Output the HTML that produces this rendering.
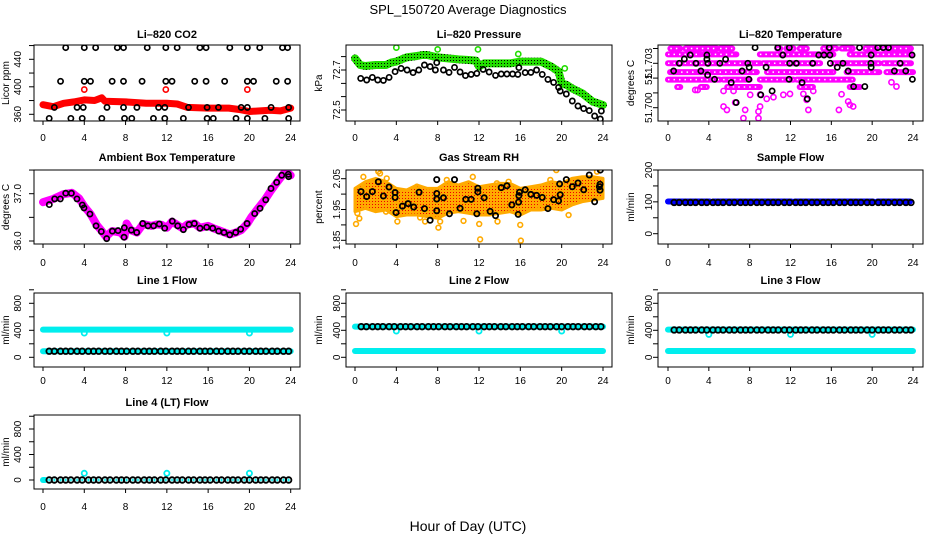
<!DOCTYPE html>
<html><head><meta charset="utf-8"><style>
html,body{margin:0;padding:0;background:#fff}
svg{display:block;font-family:"Liberation Sans",sans-serif}
</style></head><body>
<svg id="chart" width="936" height="540" viewBox="0 0 936 540" xmlns="http://www.w3.org/2000/svg">
<defs>
<pattern id="greenDots" width="3" height="3" patternUnits="userSpaceOnUse"><rect width="3" height="3" fill="#22dd00"/><rect width="1" height="1" fill="#000"/></pattern>
<pattern id="orangeDots" width="3" height="3" patternUnits="userSpaceOnUse"><rect width="3" height="3" fill="#ffaa00"/><rect width="1" height="1" fill="#ee0000"/></pattern>
</defs>
<text x="468" y="14" font-size="13" text-anchor="middle">SPL_150720  Average Diagnostics</text>
<text x="468" y="531" font-size="14" text-anchor="middle">Hour of Day (UTC)</text>
</svg>
<script>
// ---------- DATA ----------
const xTicks = [0,4,8,12,16,20,24];
// CO2
const co2BlackHours = [2.2,4.0,5.1,7.2,7.8,10.1,11.9,13.0,15.2,15.8,18.1,19.8,21.0,23.2,23.7, 1.7,4.0,4.6,6.7,7.8,9.6,11.9,12.5,14.7,15.8,17.6,19.8,20.4,22.6,23.7, 1.1,3.3,3.9,6.2,7.8,9.1,11.2,11.8,14.1,15.9,17.0,19.2,19.8,22.1,23.8, 0.6,2.7,3.8,5.7,7.9,8.6,10.7,11.8,13.6,15.9,16.5,18.7,19.8,21.5,23.8];
const co2BlackValues = [457,457,457,457,457,457,457,457,457,457,457,457,457,457,457, 408,408,408,408,408,408,408,408,408,408,408,408,408,408,408, 370,370,370,370,370,370,370,370,370,370,370,370,370,370,370, 354,354,354,354,354,354,354,354,354,354,354,354,354,354,354];
const co2BandHours = [0,1,2,3,4,5,5.7,6,8,10,12,13,14,16,18,19,20,22,23,24];
const co2BandValues = [374,371,376,378,381,380,384,379,378,376,376,375,370,369,369,367,364,366,365,369];
const co2RedHours = [4.0,11.9,19.8];
const co2RedValues = [396,396,396];
// Pressure
const presBandHours = [0,0.5,1,2,3,3.5,4,4.5,5,6,6.5,7,8,9,10,11,11.7,12,12.5,13,14,15,16,17,18,19,19.7,20,20.5,21,22,23,24];
const presBandValues = [72.758,72.725,72.72,72.725,72.725,72.737,72.742,72.753,72.763,72.77,72.775,72.775,72.763,72.758,72.753,72.75,72.747,72.717,72.733,72.733,72.733,72.733,72.742,72.742,72.742,72.717,72.692,72.633,72.625,72.608,72.583,72.542,72.525];
const presGreenHours = [4.0,8.0,11.9,15.8,20.3];
const presGreenValues = [72.812,72.803,72.803,72.78,72.708];
const presBlackHours = [0.55,1.13,1.68,2.2,2.75,3.3,3.88,4.46,5.04,5.62,6.17,6.72,7.27,7.78,7.91,8.56,9.1,9.63,10.17,10.69,11.24,11.79,12.4,12.98,13.6,14.15,14.7,15.25,15.76,15.86,16.47,17.02,17.57,18.12,18.67,19.22,19.7,19.86,20.45,21.03,21.58,22.13,22.67,23.19,23.74,23.84];
const presBlackValues = [72.658,72.65,72.663,72.65,72.648,72.663,72.692,72.708,72.7,72.687,72.7,72.725,72.717,72.7,72.737,72.7,72.688,72.713,72.69,72.672,72.678,72.683,72.703,72.69,72.673,72.68,72.68,72.68,72.678,72.712,72.687,72.688,72.7,72.678,72.653,72.638,72.613,72.595,72.58,72.545,72.52,72.507,72.497,72.47,72.455,72.495];
// Li-820 temperature
const tempSegStart = [0.23,1.7,5.1,10.7,11.6,12.9,15.2,17.0,19.3,21.1, 0,3.5,9.0,17.8, 0,9.3,16.2,21.1, 0.2,9.7,17.5,21.4, 0,5.4,9.0,12.6, 0.9,3.2,5.8,12.9,17.8];
const tempSegEnd   = [1.2,4.8,6.3,11.0,12.3,13.6,16.5,18.1,20.4,23.8, 3.2,6.7,16.2,23.8, 9.0,14.9,20.7,23.8, 8.7,16.2,20.7,24, 5.1,8.0,12.3,18.1, 1.2,3.8,9.0,14.2,18.8];
const tempSegValue = [51.704,51.704,51.704,51.704,51.704,51.704,51.704,51.704,51.704,51.704, 51.7036,51.7036,51.7036,51.7036, 51.703,51.703,51.703,51.703, 51.7024,51.7024,51.7024,51.7024, 51.7019,51.7019,51.7019,51.7019, 51.7014,51.7014,51.7014,51.7014,51.7014];
const tempMagHours = [2.67,2.9,5.44,6.42,8.05,9.02,9.67,10.33,11.3,11.95,13.26,13.58,14.23,5.44,6.58,5.77,7.56,9.02,8.86,7.39,8.86,13.75,17.0,17.65,17.82,18.14,16.74,22.38,21.89];
const tempMagValues = [51.7012,51.7012,51.70113,51.70113,51.70087,51.70089,51.7006,51.70071,51.70087,51.70093,51.70093,51.70053,51.70113,51.70008,51.70035,51.69985,51.69985,51.70008,51.69974,51.69929,51.69929,51.69985,51.70091,51.70042,51.70019,51.70008,51.69985,51.70143,51.70172];
const tempBlackHours = [0.55,1.11,1.6,2.18,2.74,3.22,3.81,3.81,3.91,3.88,4.56,5.08,5.64,6.19,6.68,7.26,7.82,7.95,7.92,8.53,9.09,9.61,10.2,10.75,11.24,11.89,11.92,11.86,12.57,13.13,13.65,14.17,14.76,15.28,15.8,15.86,15.9,16.58,17.13,17.65,18.18,18.76,19.28,19.9,19.87,19.9,20.55,21.07,21.6,22.18,22.74,23.29,23.91,23.94];
const tempBlackValues = [51.70248,51.703,51.70329,51.70356,51.703,51.70248,51.70356,51.70327,51.703,51.70221,51.70192,51.703,51.70327,51.7017,51.70035,51.70248,51.703,51.70273,51.70192,51.70406,51.70087,51.70273,51.70113,51.70406,51.70356,51.70406,51.703,51.70192,51.703,51.7017,51.7006,51.703,51.70356,51.70356,51.70406,51.70356,51.703,51.70273,51.703,51.70248,51.70143,51.70406,51.70143,51.70356,51.703,51.70273,51.70406,51.70406,51.70406,51.70248,51.703,51.70248,51.70356,51.70192];
// Ambient box temperature
const ambBandHours = [0,1,2,2.8,3.5,4,4.6,5.2,5.7,6.1,6.7,7.5,7.9,8.1,8.5,9.1,9.7,10.5,11,11.5,12,12.5,13,13.5,14,14.7,15.2,16,16.5,17,17.6,18.1,18.7,19.2,19.8,20.2,20.8,21.5,22,22.6,23.2,23.5,24];
const ambBandValues = [36.82,36.89,36.99,37.02,36.9,36.73,36.57,36.34,36.21,36.09,36.21,36.18,36.09,36.37,36.23,36.18,36.36,36.32,36.35,36.34,36.28,36.41,36.34,36.27,36.35,36.37,36.28,36.32,36.27,36.23,36.18,36.14,36.18,36.23,36.37,36.51,36.68,36.87,37.04,37.22,37.39,37.48,37.39];
const ambBlackHours = [0.61,1.13,1.68,2.2,2.75,3.29,3.81,3.97,4.55,5.14,5.65,6.17,6.72,7.27,7.85,7.88,8.56,9.08,9.66,10.17,10.72,11.27,11.79,12.53,13.05,13.6,14.15,14.66,15.21,15.86,16.44,17.02,17.54,18.09,18.67,19.15,19.77,20.51,21.03,21.58,22.09,22.64,23.13,23.77,23.8];
const ambBlackValues = [36.77,36.89,36.89,37.01,37.01,36.89,36.76,36.7,36.57,36.32,36.2,36.05,36.21,36.22,36.08,36.28,36.23,36.18,36.37,36.32,36.32,36.36,36.27,36.42,36.32,36.24,36.35,36.37,36.27,36.29,36.27,36.21,36.18,36.13,36.18,36.25,36.37,36.58,36.69,36.87,37.11,37.24,37.39,37.41,37.36];
// Gas stream RH
const rhBandHours = [0,1,2,3,4,5,6,7,8,9,10,11,12,13,14,15,16,17,18,19,20,21,22,23,24];
const rhBandUpper = [2.0186,2.0403,2.0511,2.0403,2.0186,2.0132,2.0295,2.0186,2.0186,2.0403,2.0295,2.0403,2.0241,2.0295,2.0349,2.0349,2.0186,2.0241,2.0295,2.0403,2.0349,2.0511,2.0565,2.0565,2.0511];
const rhBandLower = [1.943,1.9538,1.943,1.9484,1.9268,1.9322,1.9322,1.9268,1.9214,1.9376,1.943,1.9376,1.9322,1.9322,1.9376,1.943,1.9322,1.9484,1.9484,1.9538,1.9484,1.9646,1.9754,1.9808,1.9862];
const rhOrangeHours = [0.1,0.23,0.42,0.81,1.07,2.26,2.42,3.07,3.0,4.1,4.04,5.98,6.3,6.78,8.07,8.24,8.88,10.5,11.4,12.02,12.11,12.76,13.73,13.79,14.86,15.99,16.05,17.93,18.9,19.48,20.67,23.42];
const rhOrangeValues = [1.903,1.938,1.921,2.056,2.024,2.073,2.067,2.051,1.943,1.911,1.97,2.024,1.924,1.911,1.891,1.911,2.046,1.913,2.056,1.903,1.853,1.943,2.035,1.911,2.04,1.9,1.849,1.959,2.046,2.078,1.932,2.073];
const rhBlackHours = [0.58,1.13,1.68,2.26,2.75,3.29,3.88,3.88,3.97,4.59,5.14,5.68,6.2,6.72,7.27,7.91,7.91,7.91,7.91,8.56,9.14,9.63,10.17,10.72,11.24,11.79,11.89,11.89,12.5,13.08,13.6,14.15,14.7,15.18,15.83,15.79,15.86,15.92,16.47,17.02,17.57,18.12,18.67,19.22,19.7,19.8,19.86,20.45,21.03,21.58,22.13,22.67,23.19,23.74,23.71,23.71,23.65];
const rhBlackValues = [2.008,1.992,2.008,2.04,1.994,2.023,2.005,1.989,1.94,1.961,1.969,1.958,2.006,1.953,1.915,1.946,2.002,1.984,2.047,1.988,1.936,2.047,1.954,1.983,1.983,1.936,2.019,2.007,1.988,1.944,1.93,2.021,2.027,1.965,1.974,1.934,1.995,2.006,2.014,1.999,1.996,1.989,1.953,1.982,1.978,2.033,1.998,2.047,2.024,2.036,2.014,2.062,1.975,2.078,2.032,2.013,2.024];
// Flows (shared sample hours for the black points)
const flowHours = [0.6,1.1,1.7,2.2,2.7,3.3,3.8,4.4,4.9,5.4,6.0,6.5,7.1,7.6,8.1,8.7,9.2,9.8,10.3,10.8,11.4,11.9,12.5,13.0,13.5,14.1,14.6,15.2,15.7,16.2,16.8,17.3,17.9,18.4,18.9,19.5,20.0,20.6,21.1,21.6,22.2,22.7,23.3,23.8];
const sampleBlackValues = [98,98,98,98,98,98,98,98,98,98,98,98,98,98,98,98,98,98,98,98,98,98,98,98,98,98,98,98,98,98,98,98,98,98,98,98,98,98,98,98,98,98,98,98];
const sampleBandStart = [0,4.4,12.4,20.5];
const sampleBandEnd = [4.1,12.1,20.1,23.7];
const sampleBandValue = [101,101,101,101];
const line1BlackValues = [90,90,90,90,90,90,90,90,90,90,90,90,90,90,90,90,90,90,90,90,90,90,90,90,90,90,90,90,90,90,90,90,90,90,90,90,90,90,90,90,90,90,90,90];
const line2BlackValues = [454,454,454,454,454,454,454,454,454,454,454,454,454,454,454,454,454,454,454,454,454,454,454,454,454,454,454,454,454,454,454,454,454,454,454,454,454,454,454,454,454,454,454,454];
const line3BlackValues = [405,405,405,405,405,405,405,405,405,405,405,405,405,405,405,405,405,405,405,405,405,405,405,405,405,405,405,405,405,405,405,405,405,405,405,405,405,405,405,405,405,405,405,405];
const line4BlackValues = [0,0,0,0,0,0,0,0,0,0,0,0,0,0,0,0,0,0,0,0,0,0,0,0,0,0,0,0,0,0,0,0,0,0,0,0,0,0,0,0,0,0,0,0];
const line1CyanStart = [0,0];   const line1CyanEnd = [24,24];   const line1CyanValue = [410,90];
const line2CyanStart = [0,0];   const line2CyanEnd = [24,24];   const line2CyanValue = [454,94];
const line3CyanStart = [0,0];   const line3CyanEnd = [24,24];   const line3CyanValue = [410,94];
const line4CyanStart = [0];     const line4CyanEnd = [0.2];     const line4CyanValue = [0];
const dipHours = [4,12,20];
const line1DipValues = [360,360,360];
const line2DipValues = [390,390,390];
const line3DipValues = [340,340,340];
const line4DipValues = [105,105,105];

// ---------- DRAWING ----------
const NS = "http://www.w3.org/2000/svg";
const svg = document.getElementById('chart');
function mk(tag, attrs, parent){ const e=document.createElementNS(NS,tag); for(const k in attrs) e.setAttribute(k,attrs[k]); parent.appendChild(e); return e; }

const cols = [
 {bx0:34,bx1:300,h0:43,h24:290.7,labX:21,titX:9},
 {bx0:346,bx1:612,h0:355,h24:603,labX:340,titX:322},
 {bx0:658,bx1:923,h0:668,h24:913,labX:652,titX:634}];
const rows = [
 {by0:45,by1:121,titY:38,xlabY:141},
 {by0:170,by1:244,titY:161,xlabY:266},
 {by0:293,by1:367,titY:284,xlabY:384},
 {by0:415,by1:489,titY:406,xlabY:510}];

function panel(name, title, ylab, ci, ri, v1, p1, v2, p2, yticks, ylabels){
  const c = cols[ci], r = rows[ri];
  const g = mk('g', {}, svg);
  
  
  const X = h => c.h0 + (h/24)*(c.h24-c.h0);
  const Y = v => p1 + (v-v1)*(p2-p1)/(v2-v1);
  const clipId = 'clip-' + name;
  const cp = mk('clipPath', {id: clipId}, g);
  mk('rect', {x:c.bx0, y:r.by0, width:c.bx1-c.bx0, height:r.by1-r.by0}, cp);
  const t = mk('text', {x:(c.bx0+c.bx1)/2, y:r.titY, 'font-size':11, 'font-weight':'bold', 'text-anchor':'middle'}, g);
  t.textContent = title;
  
  
  const yt = mk('text', {x:c.titX, y:(r.by0+r.by1)/2, 'font-size':10, 'text-anchor':'middle', transform:`rotate(-90 ${c.titX} ${(r.by0+r.by1)/2})`}, g);
  yt.textContent = ylab;
  
  
  xTicks.forEach(h => {
    const tk = mk('line', {x1:X(h), x2:X(h), y1:r.by1, y2:r.by1+4, stroke:'#000'}, g);
    
    
    const tl = mk('text', {x:X(h), y:r.xlabY, 'font-size':10, 'text-anchor':'middle'}, g);
    tl.textContent = h;
    
    
  });
  yticks.forEach((v,i) => {
    const y = Y(v);
    const tk = mk('line', {x1:c.bx0-5, x2:c.bx0, y1:y, y2:y, stroke:'#000'}, g);
    
    
    if (ylabels[i]) {
      const tl = mk('text', {x:c.labX, y:y, 'font-size':10, 'text-anchor':'middle', transform:`rotate(-90 ${c.labX} ${y})`}, g);
      tl.textContent = ylabels[i];
      
      
    }
  });
  const plot = mk('g', {'clip-path':`url(#${clipId})`}, g);
  
  
  const box = mk('rect', {x:c.bx0, y:r.by0, width:c.bx1-c.bx0, height:r.by1-r.by0, fill:'none', stroke:'#000', 'stroke-width':1}, g);
  
  
  return {X, Y, plot};
}
function points(p, hs, vs, color, sw, r, nm){
  hs.forEach((h,i) => {
    const e = mk('circle', {cx:p.X(h), cy:p.Y(vs[i]), r:r||2.8, fill:'none', stroke:color, 'stroke-width':sw||1.8}, p.plot);
    
    
  });
}
function crossPoints(p, hs, vs, color, crossColor, nm){
  hs.forEach((h,i) => {
    const x=p.X(h), y=p.Y(vs[i]);
    const e = mk('circle', {cx:x, cy:y, r:2.8, fill:'none', stroke:color, 'stroke-width':1.8}, p.plot);
    
    
    const pl = mk('path', {d:`M${x-1.5},${y}h3M${x},${y-1.5}v3`, stroke:crossColor, 'stroke-width':1}, p.plot);
    
    
  });
}
function band(p, hs, vs, color, w, nm){
  const d = hs.map((h,i)=>(i?'L':'M')+p.X(h).toFixed(1)+','+p.Y(vs[i]).toFixed(1)).join('');
  const e = mk('path', {d, fill:'none', stroke:color, 'stroke-width':w, 'stroke-linejoin':'round', 'stroke-linecap':'round'}, p.plot);
  
  
}
function segs(p, s, en, vs, color, w, nm, holes){
  s.forEach((h,i) => {
    const e = mk('line', {x1:p.X(h), x2:p.X(en[i]), y1:p.Y(vs[i]), y2:p.Y(vs[i]), stroke:color, 'stroke-width':w, 'stroke-linecap':'round'}, p.plot);
    
    
    if (holes) {
      const hh = mk('line', {x1:p.X(h), x2:p.X(en[i]), y1:p.Y(vs[i]), y2:p.Y(vs[i]), stroke:'#fff', 'stroke-width':1.5, 'stroke-dasharray':'1.5 4'}, p.plot);
      
      
    }
  });
}

// Panel 1: CO2
const pCo2 = panel('co2-panel','Li\u2013820 CO2','Licor ppm',0,0, 440,59.3,360,114.3, [360,380,400,420,440,460], ['360','','400','','440','']);
band(pCo2, co2BandHours, co2BandValues, '#ff0000', 7, 'co2-red-series');
points(pCo2, co2RedHours, co2RedValues, '#ff0000', 1.6, 2.6, 'co2-red-point');
points(pCo2, co2BlackHours, co2BlackValues, '#000', 1.7, 2.6, 'co2-black-point');

// Panel 2: Pressure
const pPres = panel('pressure-panel','Li\u2013820 Pressure','kPa',1,0, 72.7,70,72.5,110, [72.5,72.567,72.633,72.7,72.767], ['72.5','','','72.7','']);
band(pPres, presBandHours, presBandValues, 'url(#greenDots)', 8, 'pressure-green-series');
points(pPres, presGreenHours, presGreenValues, '#22dd00', 1.6, 2.6, 'pressure-green-point');
points(pPres, presBlackHours, presBlackValues, '#000', 1.7, 2.6, 'pressure-black-point');

// Panel 3: Li-820 temperature
const pTemp = panel('li820-temperature-panel','Li\u2013820 Temperature','degrees C',2,0, 51.703,63.3,51.700,107.7, [51.700,51.701,51.702,51.703,51.704], ['51.700','','51.','51.703','']);
segs(pTemp, tempSegStart, tempSegEnd, tempSegValue, '#ff00ff', 6, 'temp-magenta-series', true);
points(pTemp, tempMagHours, tempMagValues, '#ff00ff', 1.6, 2.6, 'temp-magenta-point');
points(pTemp, tempBlackHours, tempBlackValues, '#000', 1.7, 2.6, 'temp-black-point');

// Panel 4: Ambient box temperature
const pAmb = panel('ambient-temperature-panel','Ambient Box Temperature','degrees C',0,1, 37.0,193.7,36.0,241, [36.0,36.5,37.0,37.5], ['36.0','','37.0','']);
band(pAmb, ambBandHours, ambBandValues, '#ff00ff', 8, 'ambient-magenta-series');
points(pAmb, ambBlackHours, ambBlackValues, '#000', 1.7, 2.6, 'ambient-black-point');

// Panel 5: Gas stream RH
const pRh = panel('gas-rh-panel','Gas Stream RH','percent',1,1, 2.05,178.7,1.85,240.3, [1.85,1.90,1.95,2.00,2.05], ['1.85','','1.95','','2.05']);
(function(){
  const up = rhBandHours.map((h,i)=>pRh.X(h).toFixed(1)+','+pRh.Y(rhBandUpper[i]).toFixed(1));
  const lo = rhBandHours.map((h,i)=>pRh.X(h).toFixed(1)+','+pRh.Y(rhBandLower[i]).toFixed(1)).reverse();
  const e = mk('polygon', {points: up.concat(lo).join(' '), fill:'url(#orangeDots)', stroke:'#ffaa00', 'stroke-width':3, 'stroke-linejoin':'round'}, pRh.plot);
  
  
})();
points(pRh, rhOrangeHours, rhOrangeValues, '#ffaa00', 1.6, 2.4, 'rh-orange-point');
points(pRh, rhBlackHours, rhBlackValues, '#000', 1.8, 2.6, 'rh-black-point');

// Panel 6: Sample flow
const pSample = panel('sample-flow-panel','Sample Flow','ml/min',2,1, 200,170,0,233.7, [0,50,100,150,200], ['0','','100','','200']);
segs(pSample, sampleBandStart, sampleBandEnd, sampleBandValue, '#0000ff', 6, 'sample-blue-series', false);
crossPoints(pSample, flowHours, sampleBlackValues, '#000', '#0000ff', 'sample-black-point');

// Line flow panels
const flowTicks = [0,200,400,600,800,1000];
const flowLabels = ['0','','400','','800',''];
const pL1 = panel('line1-flow-panel','Line 1 Flow','ml/min',0,2, 800,303.3,0,357.3, flowTicks, flowLabels);
segs(pL1, line1CyanStart, line1CyanEnd, line1CyanValue, '#00eeee', 6, 'line1-cyan-series', false);
points(pL1, dipHours, line1DipValues, '#00eeee', 1.8, 2.6, 'line1-cyan-point');
crossPoints(pL1, flowHours, line1BlackValues, '#000', '#00eeee', 'line1-black-point');

const pL2 = panel('line2-flow-panel','Line 2 Flow','ml/min',1,2, 800,303.3,0,357.3, flowTicks, flowLabels);
segs(pL2, line2CyanStart, line2CyanEnd, line2CyanValue, '#00eeee', 6, 'line2-cyan-series', false);
points(pL2, dipHours, line2DipValues, '#00eeee', 1.8, 2.6, 'line2-cyan-point');
crossPoints(pL2, flowHours, line2BlackValues, '#000', '#00eeee', 'line2-black-point');

const pL3 = panel('line3-flow-panel','Line 3 Flow','ml/min',2,2, 800,303.3,0,357.3, flowTicks, flowLabels);
segs(pL3, line3CyanStart, line3CyanEnd, line3CyanValue, '#00eeee', 6, 'line3-cyan-series', false);
points(pL3, dipHours, line3DipValues, '#00eeee', 1.8, 2.6, 'line3-cyan-point');
crossPoints(pL3, flowHours, line3BlackValues, '#000', '#00eeee', 'line3-black-point');

const pL4 = panel('line4-flow-panel','Line 4 (LT) Flow','ml/min',0,3, 800,429,0,480, flowTicks, flowLabels);
segs(pL4, line4CyanStart, line4CyanEnd, line4CyanValue, '#00eeee', 6, 'line4-cyan-series', false);
points(pL4, dipHours, line4DipValues, '#00eeee', 1.8, 2.6, 'line4-cyan-point');
crossPoints(pL4, flowHours, line4BlackValues, '#000', '#00eeee', 'line4-black-point');
</script>
</body></html>
